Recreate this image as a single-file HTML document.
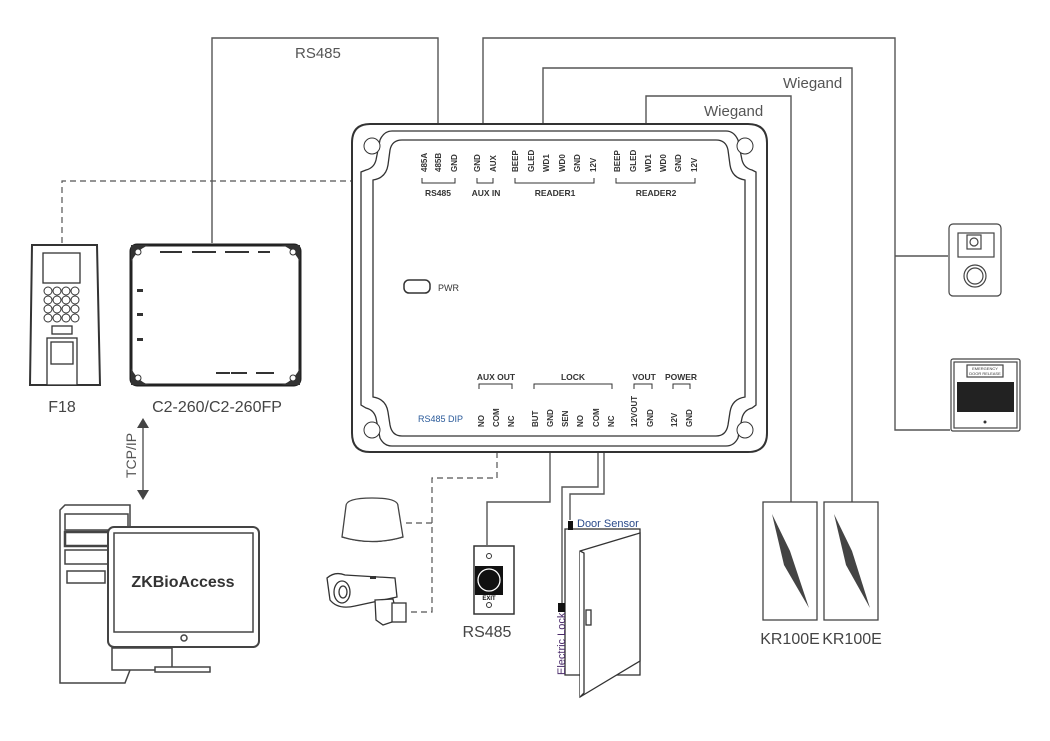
<!DOCTYPE html>
<html><head><meta charset="utf-8"><style>
html,body{margin:0;padding:0;background:#fff}
svg{display:block}
text{font-family:"Liberation Sans",sans-serif}
</style></head><body>
<svg width="1050" height="741" viewBox="0 0 1050 741" xmlns="http://www.w3.org/2000/svg">
<g fill="none" stroke="#555" stroke-width="1.4">
<polyline points="212,243 212,38 438,38 438,124"/>
<polyline points="483,124 483,38 895,38 895,430 950,430"/>
<polyline points="895,256 948,256"/>
<polyline points="543,124 543,68 852,68 852,502"/>
<polyline points="646,124 646,96 791,96 791,502"/>
<polyline points="550,452 550,502 487,502 487,545"/>
<polyline points="598,452 598,487 562,487 562,605"/>
<polyline points="604,452 604,494 570,494 570,520"/>
</g>
<g fill="none" stroke="#555" stroke-width="1.2" stroke-dasharray="6,4">
<polyline points="62,243 62,181 352,181"/>
<polyline points="497,452 497,478 432,478 432,612 408,612"/>
<polyline points="432,523 404,523"/>
</g>
<text x="295" y="58" font-size="15" fill="#555">RS485</text>
<text x="783" y="88" font-size="15" fill="#555">Wiegand</text>
<text x="704" y="116" font-size="15" fill="#555">Wiegand</text>
<line x1="143" y1="428" x2="143" y2="490" stroke="#555" stroke-width="1.4"/>
<polygon points="137,428 149,428 143,418" fill="#444"/>
<polygon points="137,490 149,490 143,500" fill="#444"/>
<text transform="translate(136,478) rotate(-90)" font-size="14" fill="#555">TCP/IP</text>

<g stroke="#333" fill="#fff">
<path d="M370,124 H748 Q767,124 767,143 V433 Q767,452 748,452 H370 Q352,452 352,433 V143 Q352,124 370,124Z" stroke-width="2"/>
<path d="M392,131 H726 Q734,131 738,140 L742,160 Q744,168 752,170 L756,172 V405 L752,408 Q744,410 742,418 L738,438 Q734,446 726,446 H392 Q384,446 380,438 L376,418 Q374,410 366,408 L361,405 V172 L366,170 Q374,168 376,160 L380,140 Q384,131 392,131Z" stroke-width="1.3"/>
<path d="M402,140 H716 Q726,140 728,150 L730,165 Q732,178 745,180 V397 Q732,399 730,412 L728,425 Q726,436 716,436 H402 Q392,436 390,425 L388,412 Q386,399 373,397 V180 Q386,178 388,165 L390,150 Q392,140 402,140Z" stroke-width="1.3"/>
<circle cx="372" cy="146" r="8" stroke-width="1"/>
<circle cx="745" cy="146" r="8" stroke-width="1"/>
<circle cx="372" cy="430" r="8" stroke-width="1"/>
<circle cx="745" cy="430" r="8" stroke-width="1"/>
<rect x="404" y="280" width="26" height="13" rx="5" stroke-width="1.5"/>
</g>
<text x="438" y="291" font-size="9" fill="#333">PWR</text>
<g font-size="8" fill="#333" font-weight="bold">
<text transform="translate(427,172) rotate(-90)">485A</text>
<text transform="translate(441,172) rotate(-90)">485B</text>
<text transform="translate(457,172) rotate(-90)">GND</text>
<text transform="translate(480,172) rotate(-90)">GND</text>
<text transform="translate(496,172) rotate(-90)">AUX</text>
<text transform="translate(518,172) rotate(-90)">BEEP</text>
<text transform="translate(534,172) rotate(-90)">GLED</text>
<text transform="translate(549,172) rotate(-90)">WD1</text>
<text transform="translate(565,172) rotate(-90)">WD0</text>
<text transform="translate(580,172) rotate(-90)">GND</text>
<text transform="translate(596,172) rotate(-90)">12V</text>
<text transform="translate(620,172) rotate(-90)">BEEP</text>
<text transform="translate(636,172) rotate(-90)">GLED</text>
<text transform="translate(651,172) rotate(-90)">WD1</text>
<text transform="translate(666,172) rotate(-90)">WD0</text>
<text transform="translate(681,172) rotate(-90)">GND</text>
<text transform="translate(697,172) rotate(-90)">12V</text>
<text transform="translate(484,427) rotate(-90)">NO</text>
<text transform="translate(499,427) rotate(-90)">COM</text>
<text transform="translate(514,427) rotate(-90)">NC</text>
<text transform="translate(538,427) rotate(-90)">BUT</text>
<text transform="translate(553,427) rotate(-90)">GND</text>
<text transform="translate(568,427) rotate(-90)">SEN</text>
<text transform="translate(583,427) rotate(-90)">NO</text>
<text transform="translate(599,427) rotate(-90)">COM</text>
<text transform="translate(614,427) rotate(-90)">NC</text>
<text transform="translate(637,427) rotate(-90)">12VOUT</text>
<text transform="translate(653,427) rotate(-90)">GND</text>
<text transform="translate(677,427) rotate(-90)">12V</text>
<text transform="translate(692,427) rotate(-90)">GND</text>
</g>
<g fill="none" stroke="#333" stroke-width="1">
<polyline points="422,178 422,183 455,183 455,178"/>
<polyline points="477,178 477,183 493,183 493,178"/>
<polyline points="515,178 515,183 594,183 594,178"/>
<polyline points="616,178 616,183 695,183 695,178"/>
<polyline points="479,389 479,384 512,384 512,389"/>
<polyline points="534,389 534,384 612,384 612,389"/>
<polyline points="634,389 634,384 652,384 652,389"/>
<polyline points="673,389 673,384 690,384 690,389"/>
</g>
<g font-size="8.5" fill="#333" font-weight="bold" text-anchor="middle">
<text x="438" y="196">RS485</text><text x="486" y="196">AUX IN</text>
<text x="555" y="196">READER1</text><text x="656" y="196">READER2</text>
<text x="496" y="380">AUX OUT</text><text x="573" y="380">LOCK</text>
<text x="644" y="380">VOUT</text><text x="681" y="380">POWER</text>
</g>
<text x="418" y="422" font-size="9" fill="#2a5a9a">RS485 DIP</text>

<g stroke="#333" fill="#fff" stroke-width="1.3">
<path d="M32,245 H97 L100,385 H30Z" stroke-width="2"/>
<rect x="43" y="253" width="37" height="30"/>
<rect x="52" y="326" width="20" height="8"/>
<rect x="47" y="338" width="30" height="47"/>
<rect x="51" y="342" width="22" height="22"/>
</g>
<g stroke="#333" fill="#fff" stroke-width="1">
<circle cx="48" cy="291" r="4"/><circle cx="57" cy="291" r="4"/><circle cx="66" cy="291" r="4"/><circle cx="75" cy="291" r="4"/>
<circle cx="48" cy="300" r="4"/><circle cx="57" cy="300" r="4"/><circle cx="66" cy="300" r="4"/><circle cx="75" cy="300" r="4"/>
<circle cx="48" cy="309" r="4"/><circle cx="57" cy="309" r="4"/><circle cx="66" cy="309" r="4"/><circle cx="75" cy="309" r="4"/>
<circle cx="48" cy="318" r="4"/><circle cx="57" cy="318" r="4"/><circle cx="66" cy="318" r="4"/><circle cx="75" cy="318" r="4"/>
</g>
<text x="62" y="412" font-size="16" fill="#444" text-anchor="middle">F18</text>
<rect x="131" y="245" width="169" height="140" rx="6" fill="#fff" stroke="#222" stroke-width="3"/>
<g fill="#333"><path d="M131,262 Q138,248 150,245 H131Z"/><path d="M300,262 Q293,248 281,245 H300Z"/><path d="M131,368 Q138,382 150,385 H131Z"/><path d="M300,368 Q293,382 281,385 H300Z"/>
<rect x="160" y="251" width="22" height="2"/><rect x="192" y="251" width="24" height="2"/><rect x="225" y="251" width="24" height="2"/><rect x="258" y="251" width="12" height="2"/>
<rect x="137" y="289" width="6" height="3"/><rect x="137" y="313" width="6" height="3"/><rect x="137" y="338" width="6" height="3"/>
<rect x="216" y="372" width="14" height="2"/><rect x="231" y="372" width="16" height="2"/><rect x="256" y="372" width="18" height="2"/></g>
<g fill="#fff" stroke="#333" stroke-width="1"><circle cx="138" cy="252" r="3"/><circle cx="293" cy="252" r="3"/><circle cx="138" cy="378" r="3"/><circle cx="293" cy="378" r="3"/></g>
<text x="217" y="412" font-size="16" fill="#444" text-anchor="middle">C2-260/C2-260FP</text>

<g stroke="#444" fill="#fff" stroke-width="1.5">
<path d="M60,510 L65,505 H130 V670 L125,683 H60Z"/>
<rect x="65" y="514" width="63" height="16"/>
<rect x="65" y="532" width="63" height="14" stroke-width="2.5"/>
<rect x="65" y="550" width="63" height="14"/>
<rect x="67" y="571" width="38" height="12"/>
<rect x="112" y="648" width="60" height="22"/>
<rect x="155" y="667" width="55" height="5"/>
<rect x="108" y="527" width="151" height="120" rx="6" stroke-width="2"/>
<rect x="114" y="533" width="139" height="99"/>
<circle cx="184" cy="638" r="3"/>
</g>
<text x="183" y="587" font-size="16" font-weight="bold" fill="#333" text-anchor="middle">ZKBioAccess</text>

<g stroke="#444" fill="#fff" stroke-width="1.3">
<path d="M346,506 Q346,498 372,498 Q398,498 398,506 L403,537 Q372,546 342,537Z"/>
<path d="M342,537 Q372,546 403,537"/>
</g>
<g stroke="#333" fill="#fff" stroke-width="1.3">
<path d="M327,578 Q335,571 345,575 L395,578 L397,597 L355,606 Q338,610 330,600Z"/>
<ellipse cx="342" cy="592" rx="8" ry="11"/>
<ellipse cx="343" cy="592" rx="4" ry="6"/>
<path d="M375,600 L393,599 L398,620 L383,625 L376,620Z"/>
<rect x="392" y="603" width="14" height="19"/>
</g>
<rect x="370" y="576" width="6" height="3" fill="#333"/>
<rect x="474" y="546" width="40" height="68" fill="#fff" stroke="#333" stroke-width="1.5"/>
<circle cx="489" cy="556" r="2.5" fill="none" stroke="#333"/>
<circle cx="489" cy="605" r="2.5" fill="none" stroke="#333"/>
<rect x="475" y="566" width="28" height="29" fill="#111"/>
<circle cx="489" cy="580" r="11" fill="none" stroke="#fff" stroke-width="1.3"/>
<text x="489" y="600" font-size="6" fill="#111" font-weight="bold" text-anchor="middle">EXIT</text>
<text x="487" y="637" font-size="16" fill="#444" text-anchor="middle">RS485</text>
<g stroke="#333" fill="#fff" stroke-width="1.3">
<rect x="565" y="529" width="75" height="146"/>
<path d="M580,551 L640,533 V661 L580,697Z"/>
<path d="M580,551 L584,553 V693 L580,697"/>
<rect x="586" y="610" width="5" height="15"/>
</g>
<rect x="568" y="521" width="5" height="9" fill="#111"/>
<rect x="558" y="603" width="7" height="9" fill="#111"/>
<text x="577" y="527" font-size="11" fill="#2a4a8a">Door Sensor</text>
<text transform="translate(565,675) rotate(-90)" font-size="11" fill="#4a2a6a">Electric Lock</text>

<rect x="763" y="502" width="54" height="118" fill="#fff" stroke="#444" stroke-width="1.3"/>
<rect x="824" y="502" width="54" height="118" fill="#fff" stroke="#444" stroke-width="1.3"/>
<polygon points="772,514 790,551 809,608 784,565" fill="#444"/>
<polygon points="834,514 852,551 870,608 846,565" fill="#444"/>
<text x="790" y="644" font-size="16" fill="#444" text-anchor="middle">KR100E</text>
<text x="852" y="644" font-size="16" fill="#444" text-anchor="middle">KR100E</text>

<g stroke="#444" fill="#fff" stroke-width="1.2">
<rect x="949" y="224" width="52" height="72" rx="4"/>
<rect x="958" y="233" width="36" height="24"/>
<rect x="967" y="235" width="14" height="14"/>
<circle cx="974" cy="242" r="4"/>
<circle cx="975" cy="276" r="11"/>
<circle cx="975" cy="276" r="8"/>
</g>
<g stroke="#444" fill="#fff" stroke-width="1.2">
<rect x="951" y="359" width="69" height="72" rx="2"/>
<rect x="954" y="362" width="63" height="66"/>
<rect x="967" y="365" width="36" height="12"/>
</g>
<rect x="957" y="382" width="57" height="30" fill="#222"/>
<text x="985" y="370" font-size="4" fill="#333" text-anchor="middle">EMERGENCY</text>
<text x="985" y="375" font-size="4" fill="#333" text-anchor="middle">DOOR RELEASE</text>
<circle cx="985" cy="422" r="1.5" fill="#333"/>
</svg>
</body></html>
